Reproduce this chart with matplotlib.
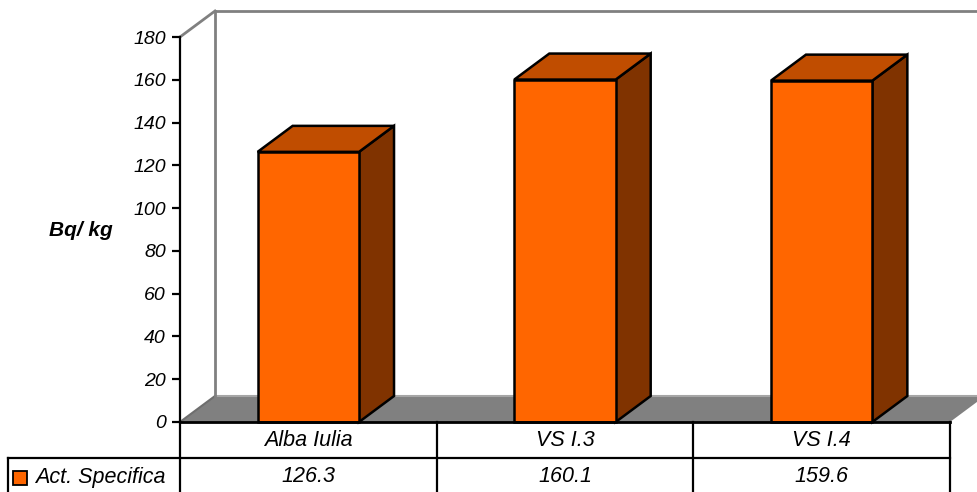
import matplotlib.pyplot as plt
from matplotlib.patches import Polygon
from matplotlib import transforms

plt.rcParams['font.family'] = ['Liberation Sans', 'DejaVu Sans']

# data
categories = ['Alba Iulia', 'VS I.3', 'VS I.4']
values = [126.3, 160.1, 159.6]
series_name = 'Act. Specifica'
y_ticks = list(range(0, 181, 20))
y_label = 'Bq/ kg'

front_col = '#FF6600'
top_col = '#C04D00'
side_col = '#803300'

W, H = 977, 492
fig = plt.figure(figsize=(W / 100, H / 100), dpi=100)

# plot area in pixels
L, R, B, T = 180, 950, 422, 37
ax = fig.add_axes([L / W, (H - B) / H, (R - L) / W, (B - T) / H])
n = len(categories)
ax.set_xlim(0, n)
ax.set_ylim(0, 180)

# depth of the 3d look, pixels -> data units
dx = 35 * n / (R - L)
dy = 26 * 180 / (B - T)

# floor
ax.add_patch(Polygon([(0, 0), (n, 0), (n + dx, dy), (dx, dy)], closed=True,
                     facecolor='#808080', edgecolor='none', clip_on=False, zorder=1))
ax.plot([dx, n + dx], [dy, dy], color='#a6a6a6', lw=1.5, clip_on=False, zorder=1.5)
ax.plot([0, dx], [0, dy], color='#6e6e6e', lw=1.5, clip_on=False, zorder=1.5)

# back wall outline
wall = dict(color='#808080', lw=2, clip_on=False, zorder=1.5)
ax.plot([dx, dx], [dy, 180 + dy], **wall)
ax.plot([dx, n + dx], [180 + dy, 180 + dy], **wall)
ax.plot([0, dx], [180, 180 + dy], **wall)

# bars
bw = 0.395
xs = [i + 0.5 for i in range(n)]
for x, v in zip(xs, values):
    x0, x1 = x - bw / 2, x + bw / 2
    ax.add_patch(Polygon([(x1, 0), (x1 + dx, dy), (x1 + dx, v + dy), (x1, v)], closed=True,
                         facecolor=side_col, edgecolor='black', lw=1.8, clip_on=False, zorder=3))
    ax.add_patch(Polygon([(x0, v), (x1, v), (x1 + dx, v + dy), (x0 + dx, v + dy)], closed=True,
                         facecolor=top_col, edgecolor='black', lw=1.8, clip_on=False, zorder=3))
ax.bar(xs, values, width=bw, color=front_col, edgecolor='black', linewidth=1.8, zorder=4,
       clip_on=False)

# axes styling
for s in ['top', 'right']:
    ax.spines[s].set_visible(False)
ax.spines['left'].set_linewidth(1.6)
ax.spines['bottom'].set_linewidth(2)
ax.spines['bottom'].set_zorder(5)
ax.set_xticks([])
ax.set_yticks(y_ticks)
ax.tick_params(axis='y', direction='out', length=6, width=1.6, pad=4, labelsize=14)
for lab in ax.get_yticklabels():
    lab.set_fontstyle('italic')
ax.text((81 - L) / (R - L), (B - 230) / (B - T), y_label, transform=ax.transAxes,
        ha='center', va='center', fontsize=15, fontweight='bold', fontstyle='italic')

# data table under the chart
trans = transforms.blended_transform_factory(ax.transData, ax.transAxes)
r1 = -36 / (B - T)
r_end = -80 / (B - T)
xh = -(L - 8) * n / (R - L)
tl = dict(color='black', lw=1.6, clip_on=False, transform=trans)
for i in range(n + 1):
    ax.plot([i, i], [0, r_end], **tl)
ax.plot([xh, n], [r1, r1], **tl)
ax.plot([xh, xh], [r1, r_end], **tl)

for x, c, v in zip(xs, categories, values):
    ax.text(x, -18 / (B - T), c, transform=trans, ha='center', va='center',
            fontsize=15.5, fontstyle='italic')
    ax.text(x, -55 / (B - T), f'{v:.1f}', transform=trans, ha='center', va='center',
            fontsize=15.5, fontstyle='italic')

ax.plot([(20 - L) * n / (R - L)], [-56 / (B - T)], marker='s', markersize=9.5,
        markerfacecolor=front_col, markeredgecolor='black', markeredgewidth=1.3,
        transform=trans, clip_on=False)
ax.text((35 - L) * n / (R - L), -55 / (B - T), series_name, transform=trans,
        ha='left', va='center', fontsize=15.5, fontstyle='italic')

fig.savefig('out.png', dpi=100)
